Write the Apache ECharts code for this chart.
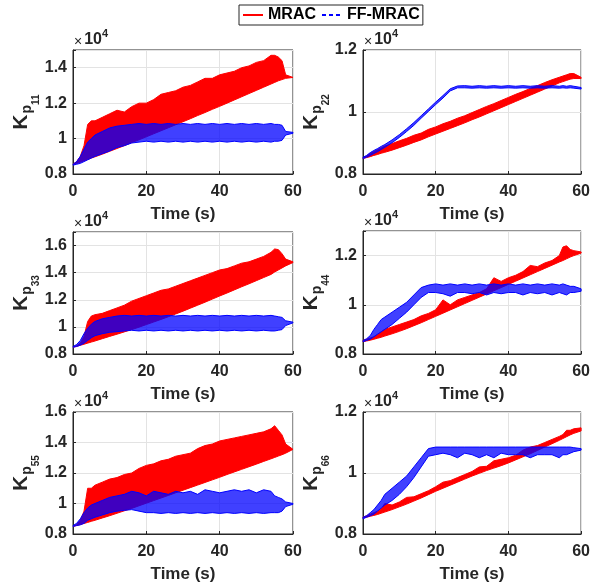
<!DOCTYPE html>
<html>
<head>
<meta charset="utf-8">
<script src="https://cdn.jsdelivr.net/npm/echarts@6/dist/echarts.min.js"></script>
<style>
html, body { margin: 0; padding: 0; background: #fff; }
#main { width: 593px; height: 588px; }
</style>
</head>
<body>
<div id="main"></div>
<script>
// time stamps (s), shared by every trace
var time = [0,1,2,3,4,5,6,8,10,12,14,16,18,20,22,24,26,28,30,32,34,36,38,40,42,44,46,48,50,52,54,55,56,57,58,60];

// gains in units of 1e4 : lower / upper edge of each oscillating trace
var mracLo11 = [0.855,0.86,0.867,0.875,0.882,0.89,0.897,0.912,0.928,0.944,0.96,0.977,0.993,1.01,1.027,1.044,1.061,1.078,1.095,1.112,1.13,1.147,1.165,1.182,1.2,1.218,1.236,1.254,1.272,1.29,1.308,1.317,1.326,1.333,1.34,1.345];
var mracHi11 = [0.855,0.87,0.9,0.96,1.08,1.1,1.1,1.12,1.14,1.16,1.15,1.18,1.2,1.2,1.22,1.25,1.26,1.27,1.29,1.3,1.32,1.34,1.34,1.36,1.37,1.38,1.4,1.41,1.43,1.44,1.47,1.47,1.46,1.44,1.36,1.345];
var ffLo11 = [0.85,0.855,0.86,0.87,0.88,0.89,0.9,0.915,0.93,0.95,0.96,0.975,0.98,0.985,0.98,0.985,0.98,0.985,0.98,0.985,0.98,0.985,0.98,0.985,0.98,0.985,0.98,0.985,0.98,0.985,0.98,0.985,0.985,0.99,1.02,1.03];
var ffHi11 = [0.855,0.87,0.9,0.94,0.98,1.0,1.02,1.04,1.06,1.07,1.075,1.08,1.085,1.08,1.085,1.08,1.085,1.08,1.085,1.08,1.085,1.08,1.085,1.08,1.085,1.08,1.085,1.08,1.085,1.08,1.085,1.08,1.08,1.075,1.04,1.035];

var mracLo22 = [0.85,0.853,0.856,0.86,0.863,0.867,0.87,0.877,0.885,0.893,0.902,0.91,0.92,0.929,0.938,0.947,0.956,0.965,0.975,0.984,0.994,1.004,1.014,1.024,1.034,1.044,1.054,1.064,1.074,1.084,1.094,1.098,1.102,1.106,1.108,1.108];
var mracHi22 = [0.852,0.858,0.866,0.872,0.878,0.884,0.89,0.898,0.907,0.915,0.925,0.932,0.944,0.952,0.962,0.97,0.98,0.988,0.998,1.008,1.018,1.027,1.037,1.047,1.057,1.066,1.076,1.085,1.095,1.104,1.112,1.116,1.12,1.124,1.124,1.112];
var ffLo22 = [0.85,0.854,0.86,0.866,0.872,0.879,0.886,0.901,0.918,0.937,0.957,0.98,1.002,1.024,1.045,1.068,1.078,1.078,1.077,1.078,1.077,1.078,1.077,1.078,1.077,1.078,1.077,1.078,1.077,1.078,1.077,1.078,1.077,1.078,1.077,1.074];
var ffHi22 = [0.854,0.86,0.869,0.876,0.882,0.889,0.895,0.91,0.927,0.946,0.966,0.988,1.01,1.032,1.053,1.075,1.084,1.085,1.083,1.085,1.083,1.085,1.083,1.085,1.083,1.085,1.083,1.085,1.083,1.085,1.083,1.085,1.083,1.085,1.083,1.079];

var mracLo33 = [0.85,0.857,0.864,0.872,0.88,0.888,0.896,0.913,0.93,0.946,0.963,0.98,0.998,1.017,1.036,1.055,1.075,1.095,1.116,1.138,1.16,1.182,1.205,1.228,1.25,1.273,1.296,1.318,1.341,1.364,1.387,1.405,1.42,1.435,1.45,1.475];
var mracHi33 = [0.85,0.86,0.88,0.93,1.04,1.08,1.09,1.1,1.12,1.14,1.16,1.19,1.21,1.23,1.25,1.27,1.28,1.3,1.32,1.34,1.36,1.38,1.4,1.42,1.43,1.45,1.47,1.48,1.5,1.52,1.55,1.575,1.57,1.54,1.5,1.48];
var ffLo33 = [0.85,0.855,0.865,0.88,0.9,0.92,0.935,0.95,0.96,0.965,0.97,0.975,0.97,0.975,0.97,0.975,0.97,0.975,0.97,0.975,0.97,0.975,0.97,0.975,0.97,0.975,0.97,0.975,0.97,0.975,0.97,0.97,0.975,0.98,1.01,1.03];
var ffHi33 = [0.855,0.87,0.9,0.95,0.99,1.02,1.04,1.06,1.07,1.08,1.085,1.08,1.085,1.08,1.085,1.08,1.085,1.08,1.085,1.08,1.085,1.08,1.085,1.08,1.085,1.08,1.085,1.08,1.085,1.08,1.085,1.08,1.075,1.07,1.045,1.035];

var mracLo44 = [0.85,0.853,0.856,0.86,0.864,0.868,0.873,0.882,0.892,0.903,0.915,0.927,0.94,0.953,0.966,0.979,0.992,1.005,1.018,1.031,1.044,1.057,1.07,1.083,1.096,1.109,1.122,1.135,1.148,1.161,1.174,1.18,1.187,1.194,1.2,1.21];
var mracHi44 = [0.855,0.86,0.865,0.87,0.88,0.89,0.9,0.91,0.92,0.93,0.94,0.955,0.965,0.98,1.02,1.0,1.02,1.03,1.04,1.05,1.065,1.11,1.095,1.11,1.12,1.135,1.16,1.155,1.17,1.18,1.2,1.235,1.24,1.225,1.22,1.215];
var ffLo44 = [0.85,0.855,0.86,0.87,0.88,0.89,0.9,0.92,0.945,0.97,1.0,1.03,1.05,1.05,1.045,1.035,1.05,1.05,1.045,1.05,1.04,1.05,1.045,1.05,1.05,1.04,1.05,1.045,1.05,1.04,1.05,1.045,1.04,1.05,1.05,1.055];
var ffHi44 = [0.855,0.862,0.875,0.9,0.92,0.94,0.95,0.97,0.99,1.01,1.04,1.07,1.08,1.085,1.08,1.085,1.08,1.085,1.08,1.085,1.08,1.085,1.08,1.085,1.08,1.085,1.08,1.085,1.08,1.085,1.08,1.085,1.08,1.075,1.075,1.065];

var mracLo55 = [0.85,0.856,0.862,0.869,0.876,0.883,0.89,0.905,0.92,0.936,0.952,0.968,0.985,1.002,1.019,1.036,1.053,1.07,1.087,1.104,1.121,1.138,1.155,1.172,1.19,1.207,1.224,1.241,1.258,1.276,1.293,1.302,1.311,1.32,1.33,1.355];
var mracHi55 = [0.85,0.86,0.89,0.95,1.1,1.1,1.12,1.14,1.16,1.17,1.19,1.2,1.23,1.25,1.26,1.28,1.29,1.31,1.32,1.33,1.36,1.38,1.39,1.41,1.42,1.43,1.44,1.45,1.46,1.47,1.49,1.51,1.48,1.45,1.39,1.355];
var ffLo55 = [0.85,0.855,0.86,0.87,0.89,0.9,0.91,0.925,0.94,0.95,0.955,0.96,0.95,0.94,0.94,0.935,0.94,0.935,0.94,0.935,0.94,0.935,0.94,0.935,0.94,0.935,0.94,0.935,0.94,0.935,0.94,0.94,0.94,0.95,0.98,0.995];
var ffHi55 = [0.855,0.87,0.9,0.94,0.97,0.99,1.0,1.02,1.04,1.05,1.06,1.08,1.07,1.05,1.08,1.07,1.06,1.08,1.07,1.08,1.06,1.09,1.08,1.07,1.08,1.09,1.08,1.09,1.07,1.09,1.08,1.05,1.04,1.03,1.01,1.0];

var mracLo66 = [0.852,0.855,0.858,0.861,0.864,0.868,0.872,0.88,0.889,0.898,0.908,0.918,0.929,0.94,0.95,0.96,0.97,0.98,0.99,0.999,1.008,1.016,1.024,1.033,1.043,1.053,1.063,1.074,1.085,1.096,1.107,1.113,1.119,1.125,1.13,1.138];
var mracHi66 = [0.855,0.86,0.865,0.87,0.875,0.882,0.9,0.895,0.905,0.92,0.922,0.932,0.942,0.955,0.97,0.975,0.985,0.995,1.005,1.02,1.022,1.04,1.045,1.05,1.058,1.075,1.085,1.09,1.1,1.11,1.12,1.126,1.14,1.14,1.145,1.148];
var ffLo66 = [0.85,0.855,0.86,0.865,0.875,0.885,0.895,0.91,0.93,0.955,0.985,1.02,1.055,1.06,1.065,1.06,1.05,1.065,1.06,1.05,1.06,1.05,1.065,1.06,1.06,1.06,1.05,1.06,1.06,1.06,1.05,1.06,1.06,1.065,1.07,1.075];
var ffHi66 = [0.855,0.86,0.87,0.88,0.895,0.91,0.93,0.95,0.97,0.99,1.02,1.05,1.08,1.085,1.085,1.085,1.085,1.085,1.085,1.085,1.085,1.085,1.085,1.085,1.085,1.085,1.085,1.085,1.085,1.085,1.085,1.085,1.085,1.085,1.083,1.08];

var chart = echarts.init(document.getElementById('main'));
var ink = '#262626';
var red = '#ff0000';
var blue = '#0000ff';
var font = 'Liberation Sans';

var panels = [
    { sub: '11', lo: mracLo11, hi: mracHi11, flo: ffLo11, fhi: ffHi11, yMax: 1.5, box: [73, 50, 220, 124] },
    { sub: '22', lo: mracLo22, hi: mracHi22, flo: ffLo22, fhi: ffHi22, yMax: 1.2, box: [363, 50, 220, 124] },
    { sub: '33', lo: mracLo33, hi: mracHi33, flo: ffLo33, fhi: ffHi33, yMax: 1.7, box: [73, 232, 220, 122] },
    { sub: '44', lo: mracLo44, hi: mracHi44, flo: ffLo44, fhi: ffHi44, yMax: 1.3, box: [363, 231, 220, 123] },
    { sub: '55', lo: mracLo55, hi: mracHi55, flo: ffLo55, fhi: ffHi55, yMax: 1.6, box: [73, 412, 220, 122] },
    { sub: '66', lo: mracLo66, hi: mracHi66, flo: ffLo66, fhi: ffHi66, yMax: 1.2, box: [363, 412, 220, 122] }
];

function rows(lo, hi) {
    return time.map(function (t, k) { return [t, lo[k], hi[k]]; });
}
// whole envelope drawn as one polygon through the axis scales
function band(data, color, alpha) {
    return function (params, api) {
        if (params.dataIndex !== 0) return null;
        var pts = [];
        for (var k = 0; k < data.length; k++) pts.push(api.coord([data[k][0], data[k][2]]));
        for (var k2 = data.length - 1; k2 >= 0; k2--) pts.push(api.coord([data[k2][0], data[k2][1]]));
        return {
            type: 'polygon',
            shape: { points: pts },
            style: { fill: color, stroke: color, lineWidth: 1, fillOpacity: alpha }
        };
    };
}
// only label the 0.2 steps (hides the extra max tick)
function yLabel(v) {
    var k = Math.round(v * 5);
    return Math.abs(k - v * 5) < 1e-6 ? String(Math.round(v * 10) / 10) : '';
}

var grids = [], xAxes = [], yAxes = [], series = [], graphics = [];

// legend-only traces
series.push({ type: 'line', name: 'MRAC', data: [], symbol: 'none', lineStyle: { color: red, width: 1 }, itemStyle: { color: red } });
series.push({ type: 'line', name: 'FF-MRAC', data: [], symbol: 'none', lineStyle: { color: blue, width: 1, type: [4, 3] }, itemStyle: { color: blue } });

panels.forEach(function (p, i) {
    grids.push({
        left: p.box[0], top: p.box[1], width: p.box[2], height: p.box[3],
        show: true, borderColor: ink, borderWidth: 1, backgroundColor: '#fff'
    });
    xAxes.push({
        type: 'value', gridIndex: i, min: 0, max: 60, interval: 20,
        name: 'Time (s)', nameLocation: 'middle', nameGap: 32,
        nameTextStyle: { fontSize: 17, fontWeight: 'bold', color: ink, fontFamily: font },
        axisLine: { lineStyle: { color: ink } },
        axisTick: { inside: true, length: 3, lineStyle: { color: ink } },
        axisLabel: { fontSize: 16, fontWeight: 'bold', color: ink, margin: 10, fontFamily: font },
        splitLine: { lineStyle: { color: '#e3e3e3' } }
    });
    yAxes.push({
        type: 'value', gridIndex: i, min: 0.8, max: p.yMax, interval: 0.2,
        name: '{k|K}{p|p}{n|' + p.sub + '}', nameLocation: 'middle', nameGap: 27, nameRotate: 90,
        nameTextStyle: {
            color: ink, fontFamily: font,
            rich: {
                k: { fontSize: 21, fontWeight: 'bold', color: ink, verticalAlign: 'top', fontFamily: font },
                p: { fontSize: 14, fontWeight: 'bold', color: ink, verticalAlign: 'top', padding: [9, 0, 0, 1], fontFamily: font },
                n: { fontSize: 10, fontWeight: 'bold', color: ink, verticalAlign: 'top', padding: [20, 0, 0, 0], fontFamily: font }
            }
        },
        axisLine: { lineStyle: { color: ink } },
        axisTick: { inside: true, length: 3, lineStyle: { color: ink } },
        axisLabel: { fontSize: 16, fontWeight: 'bold', color: ink, margin: 6, formatter: yLabel, fontFamily: font },
        splitLine: { lineStyle: { color: '#e3e3e3' } }
    });

    var mr = rows(p.lo, p.hi);
    var ff = rows(p.flo, p.fhi);
    series.push({
        type: 'custom', xAxisIndex: i, yAxisIndex: i, z: 2,
        data: mr, encode: { x: 0, y: [1, 2] },
        renderItem: band(mr, red, 1)
    });
    series.push({
        type: 'custom', xAxisIndex: i, yAxisIndex: i, z: 3,
        data: ff, encode: { x: 0, y: [1, 2] },
        renderItem: band(ff, blue, 0.75)
    });

    // x10^4 exponent above each axes
    graphics.push({
        type: 'text', left: p.box[0] + 1, top: p.box[1] - 22,
        style: {
            text: '{x|\u00d7}{a|10}{b|4}',
            rich: {
                x: { fontSize: 14, fill: ink, verticalAlign: 'top', padding: [7, 2, 0, 0], fontFamily: font },
                a: { fontSize: 16, fontWeight: 'bold', fill: ink, verticalAlign: 'top', padding: [4, 0, 0, 0], fontFamily: font },
                b: { fontSize: 11, fontWeight: 'bold', fill: ink, verticalAlign: 'top', fontFamily: font }
            }
        }
    });
});

var option = {
    animation: false,
    backgroundColor: '#fff',
    legend: {
        left: 239, top: 5, padding: [2, 3], itemGap: 5,
        itemWidth: 20, itemHeight: 12,
        itemStyle: { opacity: 0 },
        borderColor: ink, borderWidth: 1, borderRadius: 0,
        backgroundColor: '#fff', selectedMode: false,
        textStyle: { fontSize: 16, fontWeight: 'bold', color: '#000', fontFamily: font },
        data: ['MRAC', 'FF-MRAC']
    },
    grid: grids,
    xAxis: xAxes,
    yAxis: yAxes,
    series: series,
    graphic: graphics
};
chart.setOption(option);
</script>
</body>
</html>
